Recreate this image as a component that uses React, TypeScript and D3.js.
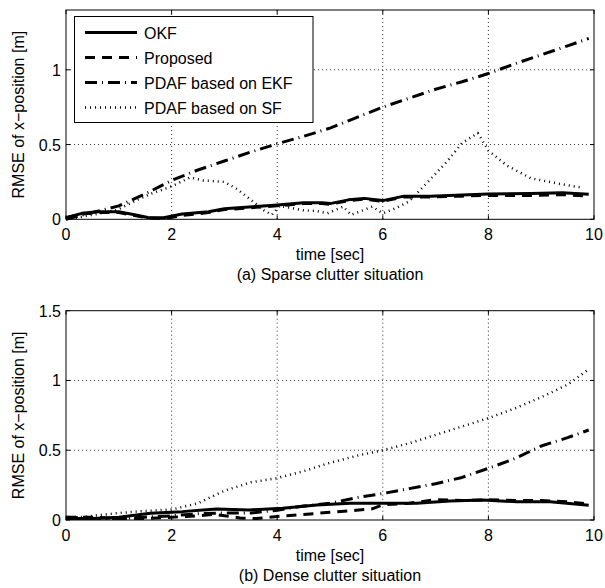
import React from 'react';
import * as d3 from 'd3';

// ---- data ----
const xTicks = [0, 2, 4, 6, 8, 10];
const yTicksTop = [0, 0.5, 1];
const yTicksBottom = [0, 0.5, 1, 1.5];
const legendLabels = ['OKF', 'Proposed', 'PDAF based on EKF', 'PDAF based on SF'];

// (a) sparse clutter
const okfTopT = [0, 0.3, 0.6, 1.0, 1.3, 1.55, 1.85, 2.2, 2.7, 3.0, 3.6, 4.0, 4.5, 4.85, 5.0, 5.35, 5.65, 6.0, 6.4, 6.9, 7.5, 8.0, 8.8, 9.4, 9.9];
const okfTop = [0.01, 0.04, 0.05, 0.05, 0.03, 0.012, 0.01, 0.035, 0.05, 0.07, 0.085, 0.095, 0.11, 0.11, 0.105, 0.13, 0.14, 0.125, 0.155, 0.155, 0.162, 0.17, 0.173, 0.177, 0.167];
const propTop = [0.01, 0.035, 0.045, 0.045, 0.025, 0.01, 0.005, 0.025, 0.045, 0.065, 0.08, 0.09, 0.105, 0.105, 0.1, 0.125, 0.135, 0.12, 0.15, 0.15, 0.155, 0.16, 0.16, 0.165, 0.155];
const ekfTopT = [0, 0.5, 1, 1.5, 2, 2.5, 3, 3.5, 4, 4.5, 5, 5.5, 6, 6.5, 7, 7.5, 8, 8.5, 9, 9.5, 9.9];
const ekfTop = [0, 0.045, 0.09, 0.17, 0.26, 0.33, 0.39, 0.45, 0.505, 0.555, 0.61, 0.68, 0.75, 0.81, 0.87, 0.92, 0.975, 1.04, 1.1, 1.16, 1.21];
const sfTopT = [0, 0.35, 0.95, 1.35, 1.6, 2.0, 2.35, 2.6, 3.0, 3.25, 3.5, 3.75, 3.9, 4.05, 4.5, 4.75, 4.95, 5.25, 5.4, 5.55, 5.8, 6.0, 6.25, 6.5, 6.8, 7.2, 7.5, 7.8, 8.0, 8.35, 8.8, 9.3, 9.8];
const sfTop = [0, 0.02, 0.06, 0.13, 0.17, 0.22, 0.28, 0.26, 0.25, 0.2, 0.13, 0.06, 0.03, 0.09, 0.06, 0.055, 0.04, 0.085, 0.03, 0.05, 0.085, 0.04, 0.075, 0.12, 0.23, 0.38, 0.51, 0.577, 0.46, 0.36, 0.275, 0.24, 0.21];

// (b) dense clutter
const okfBotT = [0, 0.5, 1, 1.6, 2.2, 2.85, 3.47, 4.1, 4.75, 5.38, 6.0, 6.64, 7.27, 7.9, 8.54, 9.17, 9.9];
const okfBot = [0.01, 0.01, 0.02, 0.048, 0.06, 0.079, 0.072, 0.084, 0.107, 0.12, 0.12, 0.12, 0.136, 0.143, 0.131, 0.13, 0.105];
const propBotT = [0, 0.5, 1, 1.5, 2, 2.5, 2.8, 3.0, 3.3, 3.6, 4, 4.5, 5, 5.5, 5.8, 6.0, 6.5, 7, 7.5, 8, 8.5, 9, 9.5, 9.9];
const propBot = [0.02, 0.02, 0.01, 0.01, 0.02, 0.03, 0.04, 0.03, 0.015, 0.01, 0.025, 0.04, 0.055, 0.07, 0.08, 0.11, 0.12, 0.145, 0.14, 0.145, 0.14, 0.14, 0.13, 0.115];
const ekfBotT = [0, 0.5, 1, 1.5, 2, 2.5, 3, 3.5, 4, 4.5, 5, 5.5, 6, 6.5, 7, 7.5, 8, 8.5, 9, 9.5, 9.9];
const ekfBot = [0.02, 0.01, 0.01, 0.02, 0.03, 0.045, 0.05, 0.05, 0.07, 0.1, 0.12, 0.16, 0.19, 0.225, 0.26, 0.305, 0.37, 0.44, 0.53, 0.59, 0.645];
const sfBotT = [0, 0.5, 1, 1.5, 2, 2.5, 3, 3.5, 4, 4.5, 5, 5.5, 6, 6.5, 7, 7.5, 8, 8.5, 9, 9.5, 9.9];
const sfBot = [0.01, 0.03, 0.05, 0.065, 0.075, 0.12, 0.21, 0.27, 0.3, 0.35, 0.41, 0.46, 0.5, 0.55, 0.61, 0.67, 0.73, 0.8, 0.88, 0.97, 1.08];

const FONT = '"Liberation Sans", Arial, Helvetica, sans-serif';
const FS = 16;

const styles = [
  { width: 3, dash: 'none' },
  { width: 3, dash: '10,7' },
  { width: 3, dash: '12,5,1,5' },
  { width: 2.5, dash: '1,4' },
];

const zip = (t: number[], v: number[]) => t.map((d, i) => [d, v[i]] as [number, number]);

type PanelProps = {
  top: number;
  bottom: number;
  yMax: number;
  yTicks: number[];
  series: [number, number][][];
  caption: string;
  legend?: boolean;
};

const left = 66;
const right = 594;

const Panel = ({ top, bottom, yMax, yTicks, series, caption, legend }: PanelProps) => {
  const x = d3.scaleLinear().domain([0, 10]).range([left, right]);
  const y = d3.scaleLinear().domain([0, yMax]).range([bottom, top]);
  const line = d3.line<[number, number]>().x(d => x(d[0])).y(d => y(d[1]));
  const tk = 4;
  const mid = (left + right) / 2;

  return (
    <g>
      {/* grid */}
      {xTicks.filter(t => t > 0 && t < 10).map(t => (
        <line key={'gx' + t} x1={x(t)} x2={x(t)} y1={top} y2={bottom} stroke="#000" strokeWidth={0.8} strokeDasharray="1,3" />
      ))}
      {yTicks.filter(t => t > 0 && y(t) > top + 1).map(t => (
        <line key={'gy' + t} x1={left} x2={right} y1={y(t)} y2={y(t)} stroke="#000" strokeWidth={0.8} strokeDasharray="1,3" />
      ))}
      {/* series */}
      <g clipPath="none">
        {series.map((s, i) => (
          <path key={i} d={line(s) || ''} fill="none" stroke="#000" strokeWidth={styles[i].width} strokeDasharray={styles[i].dash} strokeLinejoin="round" />
        ))}
      </g>
      {/* frame + ticks */}
      <rect x={left} y={top} width={right - left} height={bottom - top} fill="none" stroke="#000" strokeWidth={1} />
      {xTicks.map(t => (
        <g key={'tx' + t}>
          <line x1={x(t)} x2={x(t)} y1={bottom} y2={bottom - tk} stroke="#000" />
          <line x1={x(t)} x2={x(t)} y1={top} y2={top + tk} stroke="#000" />
          <text x={x(t)} y={bottom + 21} textAnchor="middle" fontFamily={FONT} fontSize={FS}>{t}</text>
        </g>
      ))}
      {yTicks.map(t => (
        <g key={'ty' + t}>
          <line x1={left} x2={left + tk} y1={y(t)} y2={y(t)} stroke="#000" />
          <line x1={right} x2={right - tk} y1={y(t)} y2={y(t)} stroke="#000" />
          <text x={left - 5} y={y(t) + 6} textAnchor="end" fontFamily={FONT} fontSize={FS}>{t}</text>
        </g>
      ))}
      <text x={mid} y={bottom + 41} textAnchor="middle" fontFamily={FONT} fontSize={FS}>time [sec]</text>
      <text x={mid} y={bottom + 61} textAnchor="middle" fontFamily={FONT} fontSize={FS}>{caption}</text>
      <text transform={`translate(24,${(top + bottom) / 2}) rotate(-90)`} textAnchor="middle" fontFamily={FONT} fontSize={FS}>
        RMSE of x−position [m]
      </text>
      {legend && (
        <g>
          <rect x={74.5} y={16.5} width={238.5} height={106} fill="#fff" stroke="#000" strokeWidth={1} />
          {legendLabels.map((lab, i) => (
            <g key={lab} transform={`translate(0,${32.5 + i * 25})`}>
              <line x1={85} x2={137} y1={0} y2={0} stroke="#000" strokeWidth={styles[i].width} strokeDasharray={styles[i].dash} />
              <text x={144} y={6} fontFamily={FONT} fontSize={FS}>{lab}</text>
            </g>
          ))}
        </g>
      )}
    </g>
  );
};

export default function App() {
  const topSeries = [zip(okfTopT, okfTop), zip(okfTopT, propTop), zip(ekfTopT, ekfTop), zip(sfTopT, sfTop)];
  const botSeries = [zip(okfBotT, okfBot), zip(propBotT, propBot), zip(ekfBotT, ekfBot), zip(sfBotT, sfBot)];
  return (
    <svg width={605} height={588} style={{ position: 'absolute', left: 0, top: 0, background: '#fff' }}>
      <rect width={605} height={588} fill="#fff" />
      <Panel top={10} bottom={219.3} yMax={1.4} yTicks={yTicksTop} series={topSeries} caption="(a) Sparse clutter situation" legend />
      <Panel top={310.7} bottom={520} yMax={1.5} yTicks={yTicksBottom} series={botSeries} caption="(b) Dense clutter situation" />
    </svg>
  );
}
